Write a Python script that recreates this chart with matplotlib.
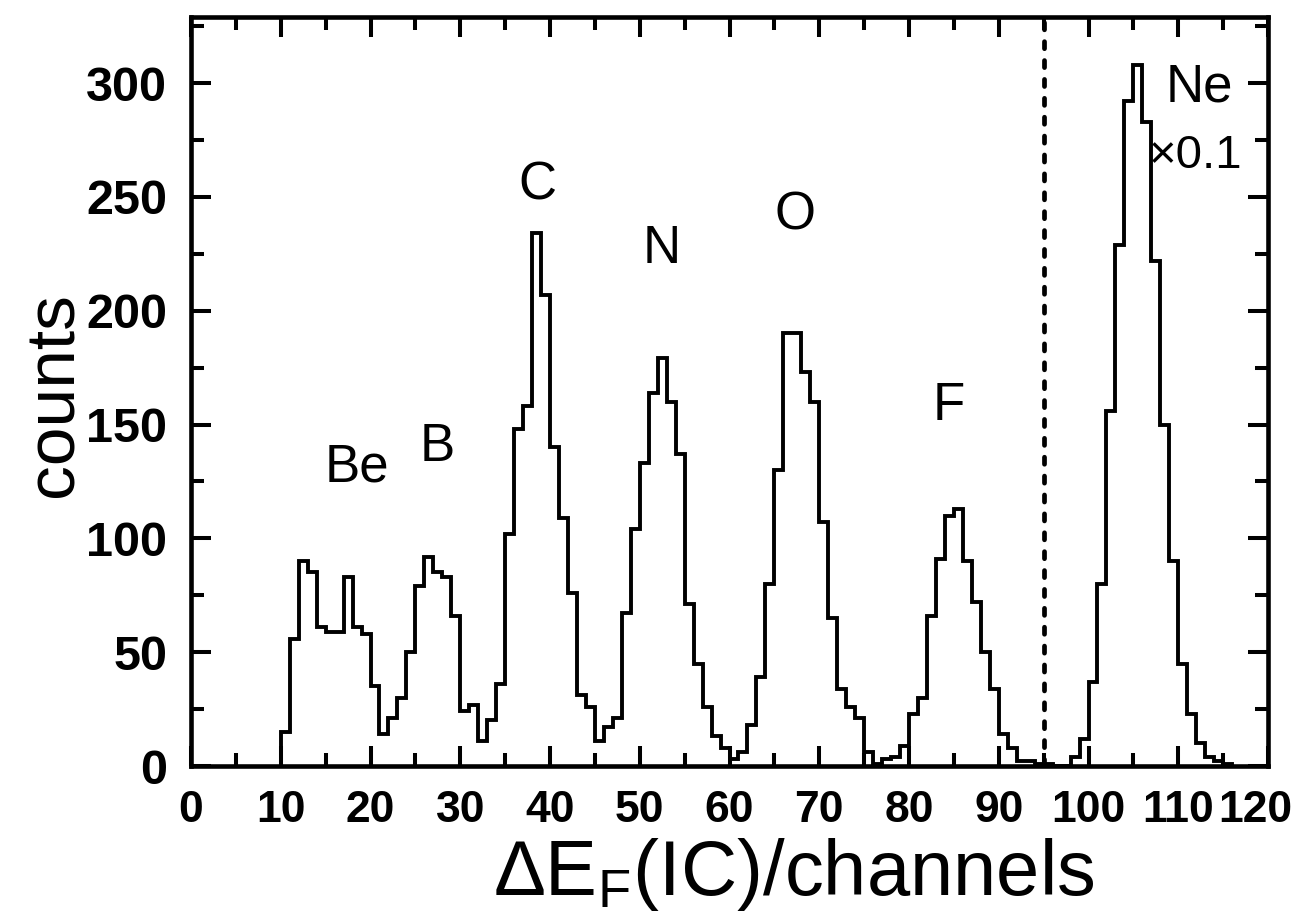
import numpy as np
import matplotlib
matplotlib.use("Agg")
import matplotlib.pyplot as plt
from matplotlib.ticker import MultipleLocator
from matplotlib.transforms import ScaledTranslation

# counts per channel, starting at channel 10 (Ne peak already scaled by 0.1)
first_channel = 10
counts = [15, 56, 90, 85, 61, 59, 59, 83, 61, 58,      # 10-19
          35, 14, 21, 30, 50, 79, 92, 85, 83, 66,      # 20-29
          24, 27, 11, 20, 36, 102, 148, 158, 234, 207, # 30-39
          140, 109, 76, 31, 26, 11, 17, 21, 67, 104,   # 40-49
          133, 164, 179, 160, 137, 71, 45, 26, 13, 8,  # 50-59
          3, 6, 18, 39, 80, 130, 190, 190, 173, 160,   # 60-69
          107, 65, 34, 26, 21, 6, 1, 3, 4, 9,          # 70-79
          23, 30, 66, 91, 110, 113, 90, 72, 50, 34,    # 80-89
          14, 8, 2, 2, 1, 1, 0, 0, 4, 12,              # 90-99
          37, 80, 156, 229, 292, 308, 283, 222, 150, 90,  # 100-109
          45, 23, 10, 4, 2, 1]                         # 110-115
ne_cut = 95

labels = ["Be", "B", "C", "N", "O", "F", "Ne", "×0.1"]
label_x = [18.5, 27.4, 38.6, 52.4, 67.3, 84.4, 112.3, 111.9]
label_y = [131, 140, 255, 227, 242, 158, 298, 268]

plt.rcParams["font.family"] = ["Liberation Sans", "DejaVu Sans"]
plt.rcParams["mathtext.fontset"] = "custom"
plt.rcParams["mathtext.rm"] = "Liberation Sans"

fig = plt.figure(figsize=(12.94, 9.24), dpi=100)
ax = fig.add_axes([191 / 1294, 1 - 766 / 924, 1077 / 1294, 749 / 924])

edges = np.arange(first_channel, first_channel + len(counts) + 1)
ax.stairs(counts, edges, color="black", linewidth=2.8, baseline=0)
ax.axvline(ne_cut, color="black", linewidth=3.4, linestyle=(0, (1.5, 2.5)),
           dash_capstyle="round")

for name, x, y in zip(labels, label_x, label_y):
    size = 34 if name.startswith("×") else 38
    ax.text(x, y, name, ha="center", va="center", fontsize=size)

ax.set_xlim(0, 120)
ax.set_ylim(0, 329)
ax.xaxis.set_major_locator(MultipleLocator(10))
ax.xaxis.set_minor_locator(MultipleLocator(5))
ax.yaxis.set_major_locator(MultipleLocator(50))
ax.yaxis.set_minor_locator(MultipleLocator(25))
ax.tick_params(which="both", direction="in", top=True, right=True, width=2.9)
ax.tick_params(which="major", length=14.5, pad=17)
ax.tick_params(which="minor", length=9.5)
for sp in ax.spines.values():
    sp.set_linewidth(3.3)

ax.set_xlabel(r"ΔE$_\mathregular{F}$(IC)/channels", fontsize=56)
ax.xaxis.set_label_coords(0.56, -0.093)
fig.text(86 / 1294, 1 - 395 / 924, "counts", rotation=90, fontsize=50,
         ha="right", va="center")

fig.canvas.draw()
for lab in ax.get_yticklabels():
    lab.set_fontsize(35)
    lab.set_fontweight("bold")
xlabs = ax.get_xticklabels()
for lab in xlabs:
    lab.set_fontsize(32)
    lab.set_fontweight("bold")
# keep the last label inside the figure
last = [lab for lab in xlabs if lab.get_text() == "120"][0]
last.set_transform(last.get_transform() + ScaledTranslation(-0.13, 0, fig.dpi_scale_trans))

fig.savefig("out.png", dpi=100)
